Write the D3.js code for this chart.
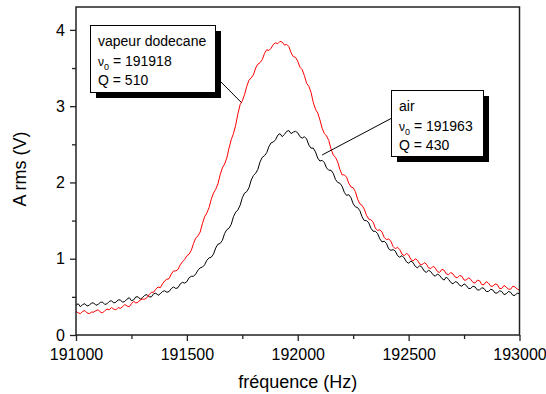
<!DOCTYPE html>
<html><head><meta charset="utf-8">
<script src="https://cdn.jsdelivr.net/npm/d3@7"></script>
<style>
body{margin:0;background:#fff}
text{font-family:"Liberation Sans",Arial,Helvetica,sans-serif;fill:#000}
</style></head>
<body><svg id="chart" width="546" height="394"></svg>
<script>
// ---- data ----
const freqStart = 191000;
const freqStep = 10;
const freqTicks = [191000, 191500, 192000, 192500, 193000];
const freqMinorTicks = [191250, 191750, 192250, 192750];
const ampTicks = [0, 1, 2, 3, 4];
const ampMinorTicks = [0.5, 1.5, 2.5, 3.5];

const dodecane = [
 0.31,0.29,0.28,0.31,0.32,0.29,0.28,0.30,0.30,0.32,0.33,0.30,0.29,0.32,0.34,0.33,0.36,0.34,0.33,0.36,
 0.35,0.37,0.40,0.38,0.37,0.41,0.44,0.42,0.43,0.46,0.47,0.47,0.49,0.53,0.56,0.56,0.60,0.63,0.62,0.67,
 0.71,0.73,0.74,0.80,0.84,0.84,0.86,0.92,0.96,0.99,1.04,1.06,1.11,1.20,1.27,1.30,1.35,1.46,1.55,1.60,
 1.67,1.78,1.86,1.91,1.98,2.10,2.19,2.24,2.32,2.45,2.56,2.64,2.75,2.90,3.02,3.07,3.15,3.26,3.34,3.37,
 3.41,3.50,3.55,3.57,3.61,3.69,3.74,3.73,3.76,3.81,3.83,3.82,3.85,3.84,3.80,3.81,3.78,3.70,3.65,3.64,
 3.59,3.51,3.48,3.40,3.30,3.26,3.18,3.05,2.96,2.91,2.82,2.71,2.64,2.61,2.55,2.44,2.36,2.33,2.27,2.17,
 2.10,2.10,2.07,1.99,1.94,1.93,1.88,1.78,1.72,1.70,1.65,1.57,1.52,1.51,1.48,1.40,1.37,1.38,1.35,1.28,
 1.25,1.26,1.23,1.16,1.13,1.15,1.12,1.06,1.04,1.07,1.05,0.99,0.97,1.00,0.98,0.93,0.92,0.95,0.93,0.88,
 0.87,0.90,0.88,0.83,0.82,0.86,0.85,0.80,0.79,0.82,0.80,0.76,0.75,0.78,0.77,0.72,0.72,0.75,0.73,0.69,
 0.68,0.72,0.71,0.66,0.66,0.70,0.68,0.64,0.64,0.67,0.66,0.61,0.61,0.65,0.63,0.60,0.60,0.64,0.63,0.60,
 0.59];

const air = [
 0.39,0.41,0.37,0.40,0.41,0.38,0.39,0.42,0.42,0.39,0.40,0.43,0.43,0.40,0.41,0.44,0.45,0.42,0.43,0.46,
 0.46,0.43,0.44,0.47,0.49,0.45,0.46,0.50,0.50,0.47,0.49,0.52,0.53,0.50,0.50,0.54,0.55,0.52,0.54,0.57,
 0.58,0.56,0.57,0.61,0.63,0.61,0.62,0.67,0.69,0.68,0.70,0.75,0.77,0.77,0.80,0.85,0.88,0.89,0.92,0.98,
 1.01,1.02,1.06,1.14,1.19,1.20,1.24,1.33,1.38,1.40,1.45,1.55,1.61,1.64,1.70,1.80,1.86,1.88,1.93,2.03,
 2.09,2.12,2.17,2.27,2.33,2.35,2.39,2.47,2.52,2.53,2.56,2.62,2.64,2.60,2.63,2.67,2.68,2.64,2.66,2.67,
 2.65,2.60,2.58,2.60,2.57,2.49,2.45,2.45,2.40,2.32,2.28,2.29,2.26,2.19,2.16,2.16,2.12,2.04,2.00,1.99,
 1.95,1.87,1.83,1.84,1.80,1.72,1.68,1.67,1.63,1.55,1.50,1.50,1.47,1.40,1.36,1.36,1.33,1.26,1.22,1.23,
 1.20,1.13,1.11,1.12,1.10,1.04,1.02,1.04,1.01,0.96,0.94,0.97,0.95,0.90,0.88,0.91,0.89,0.84,0.82,0.85,
 0.83,0.79,0.77,0.80,0.78,0.74,0.72,0.76,0.73,0.69,0.67,0.70,0.69,0.65,0.64,0.67,0.65,0.61,0.61,0.64,
 0.63,0.59,0.59,0.62,0.61,0.57,0.57,0.60,0.59,0.55,0.55,0.58,0.57,0.53,0.54,0.57,0.56,0.52,0.52,0.55,
 0.54];

const labelsDodecane = ["vapeur dodecane", "191918", "510"];
const labelsAir = ["air", "191963", "430"];
const anchorDodecane = [191745, 3.05];
const anchorAir = [192110, 2.36];

// ---- layout ----
const svg = d3.select("#chart");
svg.append("rect").attr("width",546).attr("height",394).attr("fill","#fff");
const pLeft = 76, pRight = 519.5, pTop = 7, pBottom = 335;
const x = d3.scaleLinear().domain([191000, 193000]).range([pLeft, pRight]);
const y = d3.scaleLinear().domain([0, 4.3]).range([pBottom, pTop]);

const line = d3.line().x((d,i)=>x(freqStart + i*freqStep)).y(d=>y(d));

svg.append("path").datum(air).attr("d", line)
  .attr("fill","none").attr("stroke","#000").attr("stroke-width",1);
svg.append("path").datum(dodecane).attr("d", line)
  .attr("fill","none").attr("stroke","#ff0000").attr("stroke-width",1);

// frame
svg.append("rect").attr("x",pLeft).attr("y",pTop).attr("width",pRight-pLeft).attr("height",pBottom-pTop)
  .attr("fill","none").attr("stroke","#222").attr("stroke-width",1.5);

function styleAxis(g){
  g.select(".domain").remove();
  g.selectAll(".tick line").attr("stroke","#222").attr("stroke-width",1.3);
  g.selectAll("text").attr("font-size",16).attr("font-family","Liberation Sans, Arial, sans-serif").attr("fill","#000");
}
svg.append("g").attr("transform",`translate(0,${pBottom})`)
  .call(d3.axisBottom(x).tickValues(freqTicks).tickFormat(d3.format("d")).tickSize(6).tickPadding(8))
  .call(styleAxis);
svg.append("g").attr("transform",`translate(0,${pBottom})`)
  .call(d3.axisBottom(x).tickValues(freqMinorTicks).tickFormat("").tickSize(4))
  .call(styleAxis);
svg.append("g").attr("transform",`translate(${pLeft},0)`)
  .call(d3.axisLeft(y).tickValues(ampTicks).tickFormat(d3.format("d")).tickSize(6).tickPadding(5))
  .call(styleAxis);
svg.append("g").attr("transform",`translate(${pLeft},0)`)
  .call(d3.axisLeft(y).tickValues(ampMinorTicks).tickFormat("").tickSize(4))
  .call(styleAxis);

svg.append("text").attr("x",(pLeft+pRight)/2).attr("y",388).attr("text-anchor","middle")
  .attr("font-size",18).text("fréquence (Hz)");
svg.append("text").attr("transform","translate(26,169) rotate(-90)").attr("text-anchor","middle")
  .attr("font-size",18).text("A rms (V)");

// annotations
function annot(bx, by, bw, bh, labels, anchor, lineStart){
  svg.append("line").attr("x1",lineStart[0]).attr("y1",lineStart[1])
    .attr("x2",x(anchor[0])).attr("y2",y(anchor[1])).attr("stroke","#000").attr("stroke-width",1);
  svg.append("rect").attr("x",bx+6).attr("y",by+6).attr("width",bw).attr("height",bh).attr("fill","#000");
  svg.append("rect").attr("x",bx+0.5).attr("y",by+0.5).attr("width",bw).attr("height",bh)
    .attr("fill","#fff").attr("stroke","#000").attr("stroke-width",1);
  const tx = bx + 8;
  svg.append("text").attr("x",tx).attr("y",by+21).attr("font-size",14).text(labels[0]);
  const t2 = svg.append("text").attr("x",tx).attr("y",by+40.5).attr("font-size",14);
  t2.append("tspan").attr("font-size",12).text("ν");
  t2.append("tspan").attr("font-size",9).attr("dy",4).text("0");
  t2.append("tspan").attr("dy",-4).text(" = " + labels[1]);
  svg.append("text").attr("x",tx).attr("y",by+60).attr("font-size",14).text("Q = " + labels[2]);
}
annot(90, 25, 125, 67, labelsDodecane, anchorDodecane, [215, 76]);
annot(391, 90, 92, 66, labelsAir, anchorAir, [392, 118]);
</script></body></html>
